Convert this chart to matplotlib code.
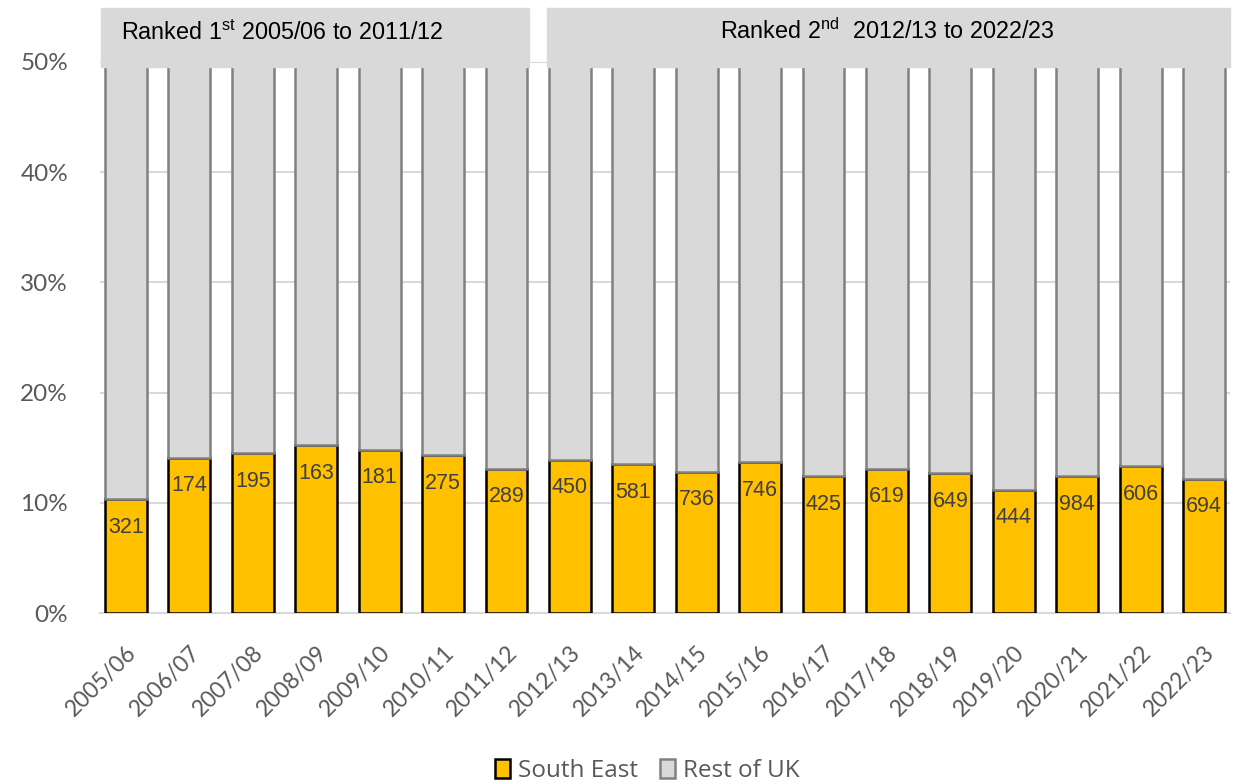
import matplotlib.pyplot as plt
from matplotlib.patches import Rectangle, Patch

plt.rcParams['mathtext.fontset'] = 'custom'
plt.rcParams['mathtext.rm'] = 'Liberation Sans'

years = ['2005/06', '2006/07', '2007/08', '2008/09', '2009/10', '2010/11', '2011/12',
         '2012/13', '2013/14', '2014/15', '2015/16', '2016/17', '2017/18', '2018/19',
         '2019/20', '2020/21', '2021/22', '2022/23']
south_east = [10.3, 14.1, 14.5, 15.2, 14.8, 14.3, 13.1, 13.9, 13.5, 12.8, 13.7,
              12.4, 13.1, 12.7, 11.2, 12.4, 13.3, 12.2]
counts = [321, 174, 195, 163, 181, 275, 289, 450, 581, 736, 746, 425, 619, 649,
          444, 984, 606, 694]
rest_of_uk = [100 - v for v in south_east]

tick_font = 'Lato'
grey_txt = '#595959'

fig = plt.figure(figsize=(12.4, 7.84), dpi=100)
ax = fig.add_axes([100 / 1240, 1 - 613 / 784, 1130 / 1240, 551 / 784])

x = list(range(len(years)))
w = 0.66
ax.bar(x, south_east, width=w, color='#ffc000', edgecolor='black', linewidth=1.8, zorder=3)
ax.bar(x, rest_of_uk, width=w, bottom=south_east, color='#d9d9d9', edgecolor='#808080',
       linewidth=1.8, zorder=3)

for i, (v, c) in enumerate(zip(south_east, counts)):
    ax.annotate(str(c), (i, v), xytext=(0, -28), textcoords='offset pixels',
                ha='center', va='center', fontsize=15.5, color='#404040',
                family='Liberation Sans', zorder=4)

ax.set_xlim(-0.41, len(years) - 1 + 0.41)
ax.set_ylim(0, 50)
ax.set_yticks([0, 10, 20, 30, 40, 50])
ax.set_yticklabels([f'{t}%' for t in [0, 10, 20, 30, 40, 50]], fontsize=17.5,
                   color=grey_txt, family=tick_font)
ax.set_xticks(x)
ax.set_xticklabels(years, rotation=45, ha='right', rotation_mode='anchor',
                   fontsize=16.5, color=grey_txt, family=tick_font)
ax.tick_params(length=0, axis='both')
ax.tick_params(axis='y', pad=23)
ax.tick_params(axis='x', pad=21)
ax.grid(axis='y', color='#d9d9d9', linewidth=1.5, zorder=0)
for s in ['left', 'right', 'top']:
    ax.spines[s].set_visible(False)
ax.spines['bottom'].set_color('#d9d9d9')
ax.spines['bottom'].set_linewidth(1.5)

# header boxes
def fx(px):
    return px / 1240

def fy(py):
    return 1 - py / 784

fig.patches.append(Rectangle((fx(101), fy(67)), fx(529) - fx(101), fy(8) - fy(67),
                             transform=fig.transFigure, color='#d9d9d9', zorder=5))
fig.patches.append(Rectangle((fx(547), fy(67)), fx(1230) - fx(547), fy(8) - fy(67),
                             transform=fig.transFigure, color='#d9d9d9', zorder=5))
fig.text(fx(121), fy(33), r'Ranked 1$^{\mathrm{st}}$ 2005/06 to 2011/12', fontsize=16.8,
         family='Liberation Sans', ha='left', va='center', zorder=6)
fig.text(fx(887), fy(31), r'Ranked 2$^{\mathrm{nd}}$  2012/13 to 2022/23', fontsize=16.8,
         family='Liberation Sans', ha='center', va='center', zorder=6)

handles = [Patch(facecolor='#ffc000', edgecolor='black', linewidth=1.8, label='South East'),
           Patch(facecolor='#d9d9d9', edgecolor='#808080', linewidth=1.8, label='Rest of UK')]
leg = fig.legend(handles=handles, loc='center', bbox_to_anchor=(fx(647), fy(771)), ncol=2,
                 frameon=False, handlelength=0.65, handleheight=0.85, handletextpad=0.3,
                 columnspacing=0.9, prop={'family': 'Open Sans', 'size': 17.5})
for t in leg.get_texts():
    t.set_color(grey_txt)

fig.savefig('out.png', dpi=100)
